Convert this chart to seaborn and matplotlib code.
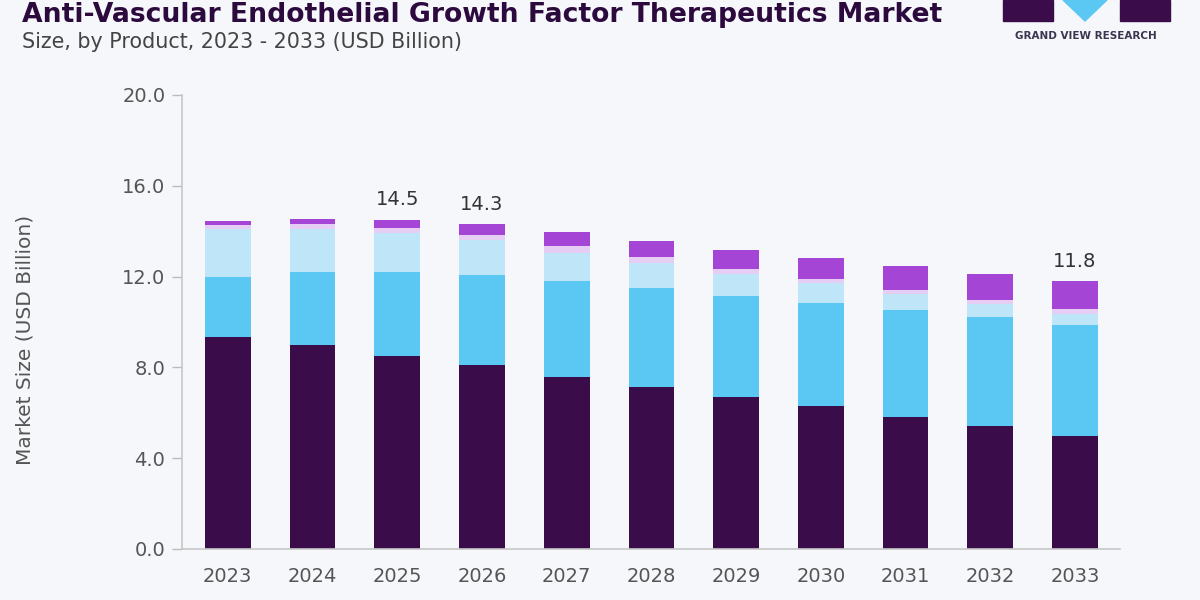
import numpy as np
import pandas as pd
import matplotlib
matplotlib.use('Agg')
import matplotlib.pyplot as plt
import matplotlib.patches as mpatches
import seaborn as sns

# 그림에서 읽어낸 값 (USD Billion)
years = ['2023', '2024', '2025', '2026', '2027', '2028', '2029', '2030', '2031', '2032', '2033']
seg_dark   = [9.35, 8.97, 8.52, 8.11, 7.59, 7.15, 6.71, 6.31, 5.83, 5.42, 4.98]
seg_cyan   = [2.65, 3.25, 3.70, 3.96, 4.23, 4.33, 4.44, 4.54, 4.70, 4.81, 4.89]
seg_pale   = [2.08, 1.86, 1.71, 1.54, 1.23, 1.11, 0.96, 0.85, 0.70, 0.56, 0.48]
seg_lav    = [0.19, 0.24, 0.21, 0.24, 0.30, 0.26, 0.21, 0.18, 0.18, 0.18, 0.21]
seg_purple = [0.17, 0.20, 0.37, 0.45, 0.60, 0.73, 0.85, 0.93, 1.06, 1.14, 1.24]
label_years = ['2025', '2026', '2033']
label_texts = ['14.5', '14.3', '11.8']

segments = [seg_dark, seg_cyan, seg_pale, seg_lav, seg_purple]
colors = ['#3a0d4a', '#5bc8f3', '#bfe5f8', '#e6cdf3', '#a445d6']

bg = '#f5f7fb'
sns.set_style('white')
plt.rcParams['font.family'] = ['DejaVu Sans']

fig = plt.figure(figsize=(12, 6), dpi=100, facecolor=bg)
ax = fig.add_axes([0.1517, 0.085, 0.7816, 0.7567])
ax.set_facecolor(bg)

bottom = np.zeros(len(years))
for vals, col in zip(segments, colors):
    sns.barplot(x=years, y=vals, bottom=bottom, color=col, width=0.54,
                saturation=1, ax=ax, linewidth=0)
    bottom = bottom + np.array(vals)

# 막대 위 값 표시
totals = dict(zip(years, bottom))
for yr, txt in zip(label_years, label_texts):
    i = years.index(yr)
    ax.text(i, totals[yr] + 0.45, txt, ha='center', va='bottom',
            fontsize=14, color='#333333')

ax.set_ylim(0, 20)
ax.set_xlim(-0.54, 10.53)
ax.set_yticks(np.arange(0, 20.1, 4))
ax.set_yticklabels([f'{v:.1f}' for v in np.arange(0, 20.1, 4)])
ax.tick_params(axis='y', length=7, width=1, color='#bbbbbb', pad=5,
               labelsize=14, labelcolor='#555555', left=True)
ax.tick_params(axis='x', length=0, pad=13, labelsize=14, labelcolor='#555555')
ax.set_xlabel('')
ax.set_ylabel('Market Size (USD Billion)', fontsize=14.5, color='#555555')
ax.yaxis.set_label_coords(-0.157, 0.46)
sns.despine(ax=ax, top=True, right=True)
for s in ['left', 'bottom']:
    ax.spines[s].set_color('#c8c8c8')
    ax.spines[s].set_linewidth(1.2)

# 제목
fig.text(0.018, 0.997, 'Anti-Vascular Endothelial Growth Factor Therapeutics Market',
         fontsize=19.2, fontweight='heavy', color='#2d0a3e', va='top', ha='left')
fig.text(0.018, 0.930, 'Size, by Product, 2023 - 2033 (USD Billion)',
         fontsize=14.9, color='#444444', va='center', ha='left')

# 로고 (대략적으로)
W, H = 1200, 600
def fx(px): return px / W
def fy(py): return 1 - py / H
fig.patches.append(mpatches.Rectangle((fx(1003), fy(21)), fx(50), 21 / H,
                                      transform=fig.transFigure, color='#3a0d4a'))
fig.patches.append(mpatches.Rectangle((fx(1120), fy(21)), fx(50), 21 / H,
                                      transform=fig.transFigure, color='#3a0d4a'))
fig.patches.append(mpatches.Polygon([(fx(1063), fy(0)), (fx(1107), fy(0)), (fx(1085), fy(21))],
                                    transform=fig.transFigure, color='#5bc8f3'))
fig.text(fx(1086), fy(36), 'GRAND VIEW RESEARCH', fontsize=7.5, fontweight='bold',
         color='#3d3550', ha='center', va='center')

fig.savefig('out.png', dpi=100, facecolor=bg)
